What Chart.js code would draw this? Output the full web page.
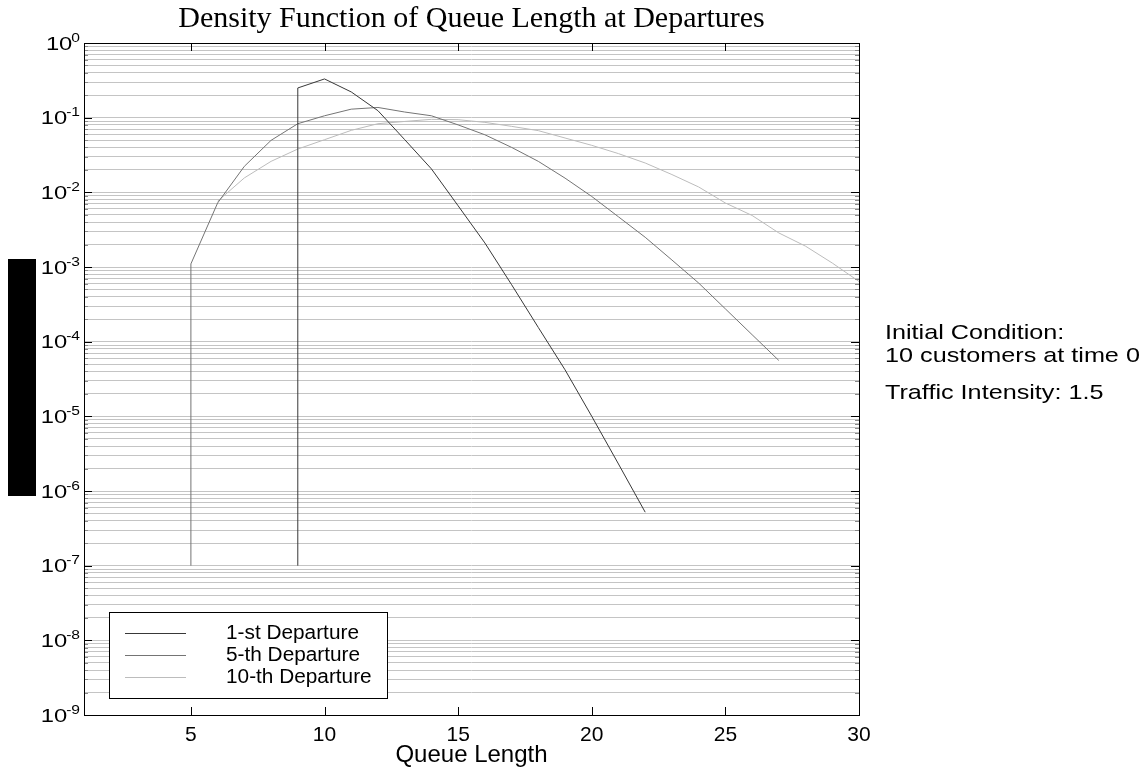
<!DOCTYPE html>
<html><head><meta charset="utf-8">
<script src="https://cdn.jsdelivr.net/npm/chart.js@4.4.0/dist/chart.umd.min.js"></script>
<style>
html,body{margin:0;padding:0;background:#fff;}
#wrap{position:relative;width:1148px;height:772px;overflow:hidden;}
canvas{position:absolute;left:0;top:0;}
.note{position:absolute;left:885px;font-family:"Liberation Sans",Arial,sans-serif;font-size:21px;color:#000;line-height:20px;white-space:nowrap;transform:scaleX(1.2);transform-origin:0 0;}
</style></head><body>
<div id="wrap">
<canvas id="c" width="1148" height="772"></canvas>
<div class="note" style="top:322px">Initial Condition:</div>
<div class="note" style="top:345px">10 customers at time 0</div>
<div class="note" style="top:382px">Traffic Intensity: 1.5</div>
</div>
<script>
// ---- data ----
const titleText = "Density Function of Queue Length at Departures";
const xTitle = "Queue Length";
const seriesNames = ["1-st Departure", "5-th Departure", "10-th Departure"];
const seriesColors = ["#383838", "#747474", "#bcbcbc"];

const dep1Q = [9, 9, 10, 11, 12, 13, 14, 15, 16, 17, 18, 19, 20, 21, 22];
const dep1V = [1e-7, 0.25, 0.33, 0.221, 0.124, 0.0508, 0.0206, 0.0066, 0.0021, 5.8e-4, 1.55e-4, 4.2e-5, 1.0e-5, 2.3e-6, 5.2e-7];

const dep5Q = [5, 5, 6, 7, 8, 9, 10, 11, 12, 13, 14, 15, 16, 17, 18, 19, 20, 21, 22, 23, 24, 25, 26, 27];
const dep5V = [1e-7, 1.1e-3, 0.0072, 0.0223, 0.0497, 0.083, 0.106, 0.13, 0.137, 0.119, 0.106, 0.080, 0.059, 0.040, 0.026, 0.0155, 0.0088, 0.0047, 0.0025, 0.00124, 6.1e-4, 2.75e-4, 1.24e-4, 5.6e-5];

const dep10Q = [6, 7, 8, 9, 10, 11, 12, 13, 14, 15, 16, 17, 18, 19, 20, 21, 22, 23, 24, 25, 26, 27, 28, 29, 30];
const dep10V = [0.0076, 0.0156, 0.026, 0.038, 0.0507, 0.0676, 0.083, 0.089, 0.095, 0.094, 0.0865, 0.0765, 0.067, 0.0534, 0.0426, 0.033, 0.0247, 0.0173, 0.0118, 0.0072, 0.0049, 0.00286, 0.0019, 0.00113, 0.00064];

const xTicks = [5, 10, 15, 20, 25, 30];
const yExponents = [-9, -8, -7, -6, -5, -4, -3, -2, -1, 0];
const xMin = 1, xMax = 30;

// ---- build ----
const yMajor = yExponents.map(e => Math.pow(10, e));
const yMinor = [];
yExponents.forEach(e => { if (e < 0) for (let m = 2; m <= 9; m++) yMinor.push(m * Math.pow(10, e)); });
const yAll = yMajor.concat(yMinor).sort((a, b) => a - b);

function pts(q, v) { return q.map((x, i) => ({ x: x, y: v[i] })); }
const seriesData = [pts(dep1Q, dep1V), pts(dep5Q, dep5V), pts(dep10Q, dep10V)];

const SANS = '"Liberation Sans", Arial, sans-serif';
const SERIF = '"Liberation Serif", "Times New Roman", serif';

function stretchText(ctx, txt, x, y, sx) {
  ctx.save();
  ctx.translate(x, y);
  ctx.scale(sx, 1);
  ctx.fillText(txt, 0, 0);
  ctx.restore();
}

const decor = {
  id: 'decor',
  afterDraw(chart) {
    const { ctx, chartArea: a, scales: { x, y } } = chart;
    ctx.save();
    const L = Math.round(a.left), R = Math.round(a.right), T = Math.round(a.top), B = Math.round(a.bottom);

    // title centred over the plot
    ctx.fillStyle = '#000';
    ctx.font = '30px ' + SERIF;
    ctx.textAlign = 'center'; ctx.textBaseline = 'alphabetic';
    ctx.fillText(titleText, (L + R) / 2, 27);

    // minor ticks (inward)
    ctx.strokeStyle = '#8a8a8a'; ctx.lineWidth = 1;
    ctx.beginPath();
    yMinor.forEach(v => {
      const py = Math.round(y.getPixelForValue(v)) + 0.5;
      ctx.moveTo(L, py); ctx.lineTo(L + 4, py);
      ctx.moveTo(R, py); ctx.lineTo(R - 4, py);
    });
    ctx.stroke();
    // major ticks (inward)
    ctx.strokeStyle = '#000';
    ctx.beginPath();
    yMajor.forEach(v => {
      const py = Math.round(y.getPixelForValue(v)) + 0.5;
      ctx.moveTo(L, py); ctx.lineTo(L + 8, py);
      ctx.moveTo(R, py); ctx.lineTo(R - 8, py);
    });
    xTicks.forEach(v => {
      const px = Math.round(x.getPixelForValue(v)) + 0.5;
      ctx.moveTo(px, B); ctx.lineTo(px, B - 8);
      ctx.moveTo(px, T); ctx.lineTo(px, T + 8);
    });
    ctx.stroke();
    // frame
    ctx.strokeRect(L + 0.5, T + 0.5, R - L, B - T);

    // y tick labels 10^e
    ctx.fillStyle = '#000';
    ctx.textAlign = 'left'; ctx.textBaseline = 'alphabetic';
    const sBase = 1.25, sSup = 1.3;
    yExponents.forEach(e => {
      const py = y.getPixelForValue(Math.pow(10, e));
      const sup = String(e);
      ctx.font = '12px ' + SANS;
      const ws = ctx.measureText(sup).width * sSup;
      ctx.font = '19px ' + SANS;
      const wb = ctx.measureText('10').width * sBase;
      const xEnd = L - 4;
      const xs = xEnd - ws;
      ctx.font = '12px ' + SANS;
      stretchText(ctx, sup, xs, py - 1.5, sSup);
      ctx.font = '19px ' + SANS;
      stretchText(ctx, '10', xs - wb + 1, py + 6.8, sBase);
    });

    // legend box
    const bx = L + 25, by = B - 103, bw = 278, bh = 86;
    ctx.fillStyle = '#fff';
    ctx.fillRect(bx, by, bw, bh);
    ctx.strokeStyle = '#000';
    ctx.strokeRect(bx + 0.5, by + 0.5, bw, bh);
    chart.data.datasets.forEach((ds, i) => {
      const ly = by + 21 + i * 22;
      ctx.strokeStyle = ds.borderColor; ctx.lineWidth = 1;
      ctx.beginPath(); ctx.moveTo(bx + 16, ly + 0.5); ctx.lineTo(bx + 77, ly + 0.5); ctx.stroke();
      ctx.fillStyle = '#000';
      ctx.font = '20px ' + SANS; ctx.textAlign = 'left'; ctx.textBaseline = 'middle';
      stretchText(ctx, ds.label, bx + 117, ly, 1.04);
    });

    // black block at left (as in the reference)
    ctx.fillStyle = '#000';
    ctx.fillRect(8, 259, 28, 237);
    ctx.restore();
  }
};

new Chart(document.getElementById('c'), {
  type: 'line',
  data: {
    datasets: seriesNames.map((n, i) => ({
      label: n,
      data: seriesData[i],
      borderColor: seriesColors[i],
      backgroundColor: seriesColors[i],
      borderWidth: 1,
      pointRadius: 0,
      tension: 0,
      fill: false
    }))
  },
  options: {
    responsive: false,
    animation: false,
    devicePixelRatio: 1,
    layout: { padding: { left: 0, right: 289, top: 43, bottom: 0 } },
    plugins: {
      legend: { display: false },
      tooltip: { enabled: false },
      title: { display: false }
    },
    scales: {
      x: {
        type: 'linear',
        min: xMin, max: xMax,
        afterBuildTicks: s => { s.ticks = xTicks.map(v => ({ value: v })); },
        afterFit: s => { s.height = 57; },
        grid: { display: false, drawTicks: false },
        border: { display: false },
        ticks: { color: '#000', font: { family: SANS, size: 21 }, padding: 8, maxRotation: 0 },
        title: { display: true, text: xTitle, color: '#000', font: { family: SANS, size: 24 }, padding: { top: 0, bottom: 2 } }
      },
      y: {
        type: 'logarithmic',
        min: 1e-9, max: 1,
        afterBuildTicks: s => { s.ticks = yAll.map(v => ({ value: v, major: yMajor.includes(v) })); },
        afterFit: s => { s.width = 84; },
        grid: { color: '#c4c4c4', lineWidth: 1, drawTicks: false },
        border: { display: false },
        ticks: { display: false }
      }
    }
  },
  plugins: [decor]
});
</script>
</body></html>
